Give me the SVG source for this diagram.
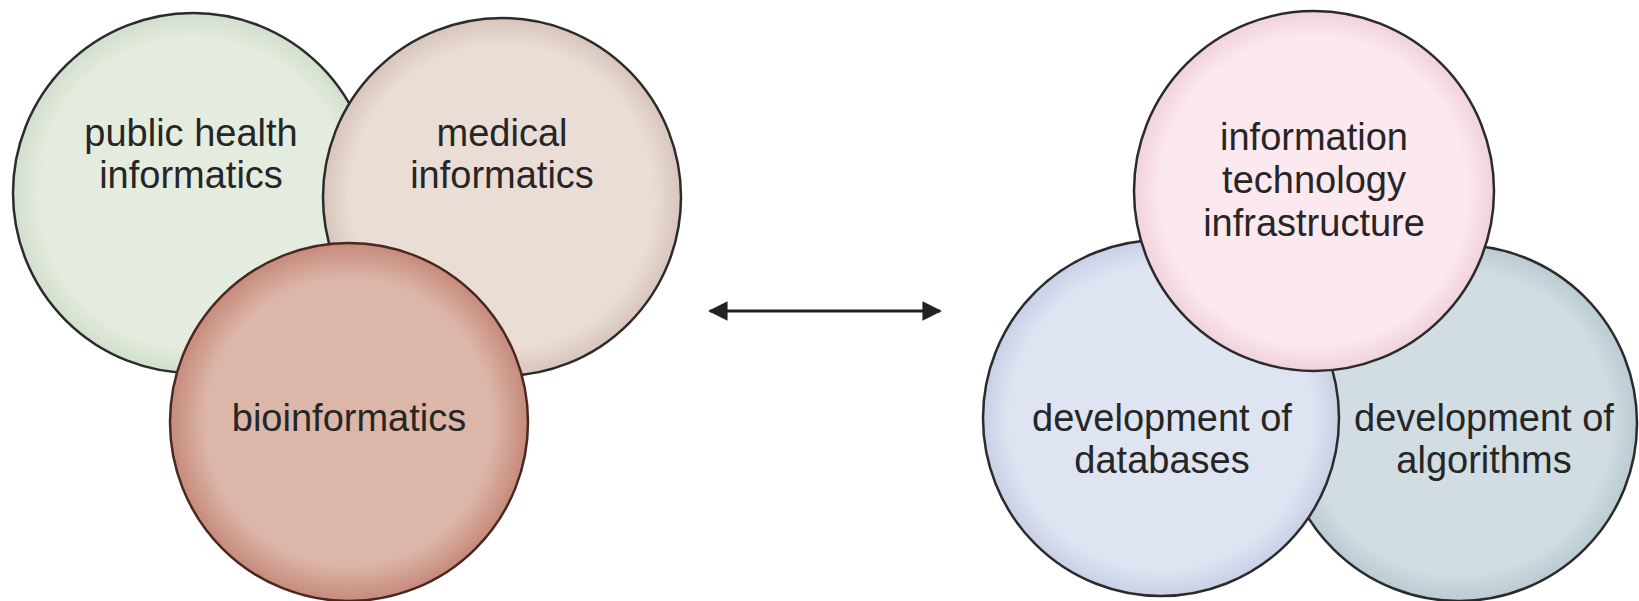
<svg xmlns="http://www.w3.org/2000/svg" width="1639" height="601" viewBox="0 0 1639 601">
<style>
.c{stroke:#2b2b2b;stroke-width:2.5}
.t{font-family:"Liberation Sans",Arial,sans-serif;font-size:38px;fill:#262626;text-anchor:middle}
.conn{stroke:#222;stroke-width:3;fill:none}
</style>
<defs>
<radialGradient id="gGreen" cx="0.5" cy="0.5" r="0.5"><stop offset="0.85" stop-color="#e4ecdf"/><stop offset="1" stop-color="#d2dfcc"/></radialGradient>
<radialGradient id="gMed" cx="0.5" cy="0.5" r="0.5"><stop offset="0.85" stop-color="#e9ddd6"/><stop offset="1" stop-color="#d8c5bb"/></radialGradient>
<radialGradient id="gBio" cx="0.5" cy="0.5" r="0.5"><stop offset="0.8" stop-color="#dcb6a8"/><stop offset="1" stop-color="#c68a7c"/></radialGradient>
<radialGradient id="gInfo" cx="0.5" cy="0.5" r="0.5"><stop offset="0.85" stop-color="#fce9ef"/><stop offset="1" stop-color="#f0d2dc"/></radialGradient>
<radialGradient id="gDb" cx="0.5" cy="0.5" r="0.5"><stop offset="0.85" stop-color="#dee4f1"/><stop offset="1" stop-color="#c8d0e6"/></radialGradient>
<radialGradient id="gAlg" cx="0.5" cy="0.5" r="0.5"><stop offset="0.85" stop-color="#d1dde2"/><stop offset="1" stop-color="#b9cbd2"/></radialGradient>
<marker id="ah" viewBox="0 0 10 10" refX="9" refY="5" markerWidth="7.5" markerHeight="6.5" orient="auto-start-reverse" markerUnits="strokeWidth"><path d="M0,0 L10,5 L0,10 z" fill="#222"/></marker>
</defs>
<rect width="1639" height="601" fill="#fff"/>
<g id="public-health">
<circle class="c" cx="193" cy="193" r="180" fill="url(#gGreen)"/>
<text class="t" x="191" y="146">public health</text>
<text class="t" x="191" y="188">informatics</text>
</g>
<g id="medical">
<circle class="c" cx="502" cy="197" r="179" fill="url(#gMed)"/>
<text class="t" x="502" y="146">medical</text>
<text class="t" x="502" y="188">informatics</text>
</g>
<g id="bioinformatics">
<circle cx="349" cy="422" r="179" fill="url(#gBio)" stroke="#4a2820" stroke-width="2.5"/>
<text class="t" x="349" y="431">bioinformatics</text>
</g>
<g id="algorithms">
<circle class="c" cx="1459" cy="423" r="178" fill="url(#gAlg)"/>
<text class="t" x="1484" y="431">development of</text>
<text class="t" x="1484" y="473">algorithms</text>
</g>
<g id="databases">
<circle class="c" cx="1161" cy="418" r="178" fill="url(#gDb)"/>
<text class="t" x="1162" y="431">development of</text>
<text class="t" x="1162" y="473">databases</text>
</g>
<g id="it-infrastructure">
<circle class="c" cx="1314" cy="191" r="180" fill="url(#gInfo)"/>
<text class="t" x="1314" y="150">information</text>
<text class="t" x="1314" y="193">technology</text>
<text class="t" x="1314" y="236">infrastructure</text>
</g>
<g id="connectors">
<line class="conn" x1="710" y1="311" x2="940" y2="311" marker-start="url(#ah)" marker-end="url(#ah)"/>
</g>
</svg>
